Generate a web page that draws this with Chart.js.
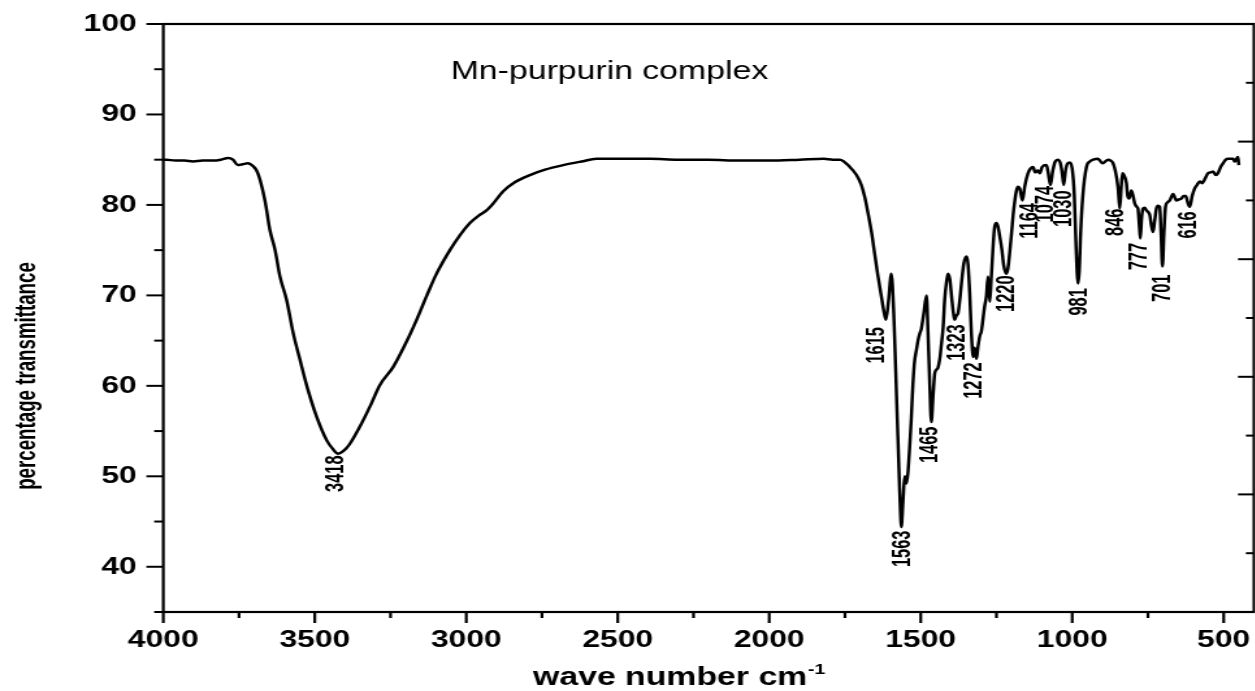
<!DOCTYPE html>
<html><head><meta charset="utf-8">
<script src="https://cdn.jsdelivr.net/npm/chart.js@4.4.1/dist/chart.umd.min.js"></script>
<style>
html,body{margin:0;padding:0;background:#fff;overflow:hidden;width:1255px;height:691px;}
#wrap{position:absolute;left:0;top:0;width:968px;height:691px;transform:scaleX(1.3);transform-origin:0 0;}
canvas{display:block;}
</style></head><body>
<div id="wrap"><canvas id="c" width="968" height="691"></canvas></div>
<script>
// ---- data ----
const wavenumber = [
4000,3990,3960,3930,3902,3870,3836,3810,3786,3770,3754,3738,3721,3712,3704,3692,3681,3664,3648,3631,
3615,3593,3571,3549,3522,3494,3461,3440,3423,3405,3384,3351,3318,3285,3241,3197,3164,3130,3098,3054,
3020,2988,2960,2933,2910,2878,2840,2790,2740,2680,2620,2570,2500,2394,2300,2200,2100,2000,1900,1820,
1790,1767,1734,1712,1696,1685,1674,1662,1652,1641,1630,1622,1615,1606,1597,1589,1579,1569,1564,1558,
1553,1547,1542,1536,1531,1526,1521,1514,1509,1503,1498,1490,1481,1476,1470,1465,1459,1454,1448,1443,
1437,1432,1426,1421,1415,1410,1404,1397,1392,1388,1382,1377,1371,1365,1358,1349,1344,1338,1333,1327,
1322,1316,1311,1305,1300,1294,1289,1283,1278,1272,1267,1261,1256,1250,1245,1239,1232,1226,1217,1212,
1206,1200,1193,1184,1179,1173,1164,1157,1146,1138,1129,1122,1113,1107,1099,1085,1079,1072,1064,1056,
1047,1039,1033,1028,1022,1015,1008,1000,993,988,984,981,977,972,965,953,942,931,915,900,
891,882,873,865,858,849,843,838,834,828,821,817,812,805,799,794,787,783,778,775,
771,766,761,755,749,744,739,733,728,722,717,711,707,702,697,692,685,678,667,661,
656,648,640,632,625,619,612,604,596,588,579,571,563,552,543,535,526,519,510,502,
493,486,477,469,464,459,453,450];
const transmittance = [
85.0,85.0,84.9,84.9,84.8,84.9,84.9,85.0,85.2,85.0,84.4,84.5,84.6,84.5,84.3,83.8,82.8,80.4,77.2,75.0,
72.1,69.5,65.8,62.9,59.5,56.6,54.0,53.0,52.5,52.8,53.6,55.5,57.7,60.1,62.1,64.9,67.3,70.0,72.4,75.0,
76.7,78.0,78.8,79.4,80.2,81.5,82.5,83.3,83.9,84.4,84.8,85.1,85.1,85.1,85.0,85.0,84.9,84.9,85.0,85.1,
85.0,85.0,84.2,83.3,82.2,80.9,79.1,76.9,74.6,72.1,69.9,68.3,67.3,69.5,72.4,68.0,58.0,48.0,44.4,47.5,
50.0,49.2,50.5,53.5,56.5,60.0,62.5,64.0,65.0,65.8,66.3,68.0,70.0,66.0,60.0,56.0,59.0,61.3,61.8,62.0,
63.0,64.5,66.5,69.5,71.5,72.4,71.8,69.5,68.0,67.3,67.8,68.0,69.5,71.5,73.5,74.3,73.5,70.0,66.0,63.2,
64.2,63.0,64.3,65.5,66.0,67.5,68.8,70.0,72.1,69.3,72.0,75.5,77.6,78.0,77.6,76.5,75.0,73.3,72.4,73.0,
74.8,77.0,79.5,81.6,82.0,81.8,80.5,82.0,83.5,84.0,84.2,83.6,83.8,83.5,84.2,84.4,83.5,82.2,83.8,84.8,
85.0,84.6,83.5,82.2,83.8,84.6,84.7,84.0,81.0,76.0,72.5,71.3,72.5,77.0,81.0,84.2,84.8,85.0,85.1,84.6,
84.8,85.0,84.9,84.6,83.8,82.0,79.6,82.0,83.5,83.2,82.4,81.0,80.7,81.6,81.0,80.2,79.8,79.6,77.5,76.3,
78.5,79.6,79.7,79.4,79.2,78.9,77.8,77.0,78.2,79.6,79.9,79.8,77.0,73.2,77.0,79.8,80.3,80.5,81.2,80.8,
80.5,80.6,80.7,81.0,81.0,80.3,79.8,81.0,81.8,82.2,82.6,82.4,82.8,83.5,83.6,83.7,83.3,83.5,84.2,84.6,
85.0,85.1,85.1,85.1,84.8,85.0,85.3,84.4];

const xMajorTicks = [4000,3500,3000,2500,2000,1500,1000,500];
const xMinorTicks = [3750,3250,2750,2250,1750,1250,750];
const yMajorTicks = [40,50,60,70,80,90,100];
const yMinorTicks = [35,45,55,65,75,85,95];

const peakLabels = ['3418','1615','1563','1465','1323','1272','1220','1164','1074','1030','981','846','777','701','616'];
const peakLabelX = [3428,1643,1559,1467,1378,1322,1214,1140,1085,1025,975,856,777,701,613];
const peakLabelY = [52.3,66.5,44.0,55.5,66.8,62.6,72.2,80.2,82.1,81.6,70.8,79.6,75.8,72.3,79.3];

const chartTitle = 'Mn-purpurin complex';
const xTitle = 'wave number cm';
const xTitleSup = '-1';
const yTitle = 'percentage transmittance';

// ---- drawing ----
const FONT = '"Liberation Sans", Arial, Helvetica, sans-serif';

const decor = {
  id: 'decor',
  afterDraw(chart) {
    const {ctx, chartArea: a, scales: {x, y, y2}} = chart;
    ctx.save();
    ctx.strokeStyle = '#000';
    ctx.fillStyle = '#000';
    ctx.lineCap = 'butt';
    const seg = (x1, y1, x2, y2_) => { ctx.beginPath(); ctx.moveTo(x1, y1); ctx.lineTo(x2, y2_); ctx.stroke(); };
    // frame
    ctx.lineWidth = 2.2;
    ctx.strokeRect(a.left, a.top, a.right - a.left, a.bottom - a.top);
    // bottom ticks
    ctx.lineWidth = 2.2;
    xMajorTicks.forEach(v => { const p = x.getPixelForValue(v); seg(p, a.bottom, p, a.bottom + 11); });
    xMinorTicks.forEach(v => { const p = x.getPixelForValue(v); seg(p, a.bottom, p, a.bottom + 6); });
    // left ticks
    ctx.lineWidth = 2;
    yMajorTicks.forEach(v => { const p = y.getPixelForValue(v); seg(a.left - 13, p, a.left, p); });
    yMinorTicks.forEach(v => { const p = y.getPixelForValue(v); seg(a.left - 7, p, a.left, p); });
    // right ticks (inward)
    y2.ticks.forEach(t => {
      const p = y2.getPixelForValue(t.value);
      const len = (Math.round(t.value) % 2 === 0) ? 12.3 : 6.2;
      seg(a.right - len, p, a.right, p);
    });
    // in-plot title
    ctx.font = '26px ' + FONT;
    ctx.textAlign = 'left';
    ctx.textBaseline = 'alphabetic';
    ctx.fillText(chartTitle, 346.7, 79.3);
    // x title
    ctx.font = 'bold 26px ' + FONT;
    ctx.fillText(xTitle, 410, 685);
    const w = ctx.measureText(xTitle).width;
    ctx.font = 'bold 15px ' + FONT;
    ctx.fillText(xTitleSup, 410 + w + 0.5, 674);
    // y title
    ctx.save();
    ctx.translate(27, 376);
    ctx.rotate(-Math.PI / 2);
    ctx.scale(0.85, 1);
    ctx.font = 'bold 22px ' + FONT;
    ctx.textAlign = 'center';
    ctx.textBaseline = 'alphabetic';
    ctx.fillText(yTitle, 0, 0);
    ctx.restore();
    // peak labels
    peakLabels.forEach((lab, i) => {
      const px = x.getPixelForValue(peakLabelX[i]);
      const py = y.getPixelForValue(peakLabelY[i]);
      ctx.save();
      ctx.translate(px, py);
      ctx.rotate(-Math.PI / 2);
      ctx.scale(0.82, 1);
      ctx.font = 'bold 20px ' + FONT;
      ctx.textAlign = 'right';
      ctx.textBaseline = 'middle';
      ctx.fillText(lab, 0, 0);
      ctx.restore();
    });
    ctx.restore();
  }
};

const whiteBg = {
  id: 'whiteBg',
  beforeDraw(chart) {
    const c = chart.ctx; c.save(); c.fillStyle = '#fff'; c.fillRect(0, 0, chart.width, chart.height); c.restore();
  }
};

new Chart(document.getElementById('c').getContext('2d'), {
  type: 'line',
  data: {
    datasets: [{
      data: wavenumber.map((w, i) => ({x: w, y: transmittance[i]})),
      borderColor: '#000',
      borderWidth: 2.5,
      pointRadius: 0,
      fill: false,
      cubicInterpolationMode: 'monotone'
    }]
  },
  options: {
    responsive: false,
    animation: false,
    devicePixelRatio: 1,
    layout: {padding: {left: 0, right: 3.4, top: 24, bottom: 0}},
    plugins: {legend: {display: false}, tooltip: {enabled: false}},
    scales: {
      x: {
        type: 'linear', reverse: true, min: 400, max: 4000,
        afterBuildTicks: s => { s.ticks = xMajorTicks.map(v => ({value: v})); },
        afterFit: s => { s.height = 79; s.paddingLeft = 0; s.paddingRight = 0; s.paddingTop = 0; s.paddingBottom = 0; },
        grid: {display: false, drawTicks: false},
        border: {display: false},
        ticks: {
          padding: 13.5, color: '#000', autoSkip: false, maxRotation: 0,
          font: {family: FONT, weight: 'bold', size: 24.5},
          callback: v => String(v)
        }
      },
      y: {
        type: 'linear', min: 35, max: 100,
        afterBuildTicks: s => { s.ticks = yMajorTicks.map(v => ({value: v})); },
        afterFit: s => { s.width = 125.6; s.paddingTop = 0; s.paddingBottom = 0; s.paddingLeft = 0; s.paddingRight = 0; },
        grid: {display: false, drawTicks: false},
        border: {display: false},
        ticks: {
          padding: 20.4, color: '#000', autoSkip: false,
          font: {family: FONT, weight: 'bold', size: 24.5},
          callback: v => String(v)
        }
      },
      y2: {
        type: 'linear', position: 'right', min: 0, max: 10,
        ticks: {display: false, stepSize: 1},
        grid: {display: false, drawTicks: false},
        border: {display: false},
        afterFit: s => { s.width = 0; s.paddingTop = 0; s.paddingBottom = 0; }
      }
    }
  },
  plugins: [whiteBg, decor]
});
</script>
</body></html>
